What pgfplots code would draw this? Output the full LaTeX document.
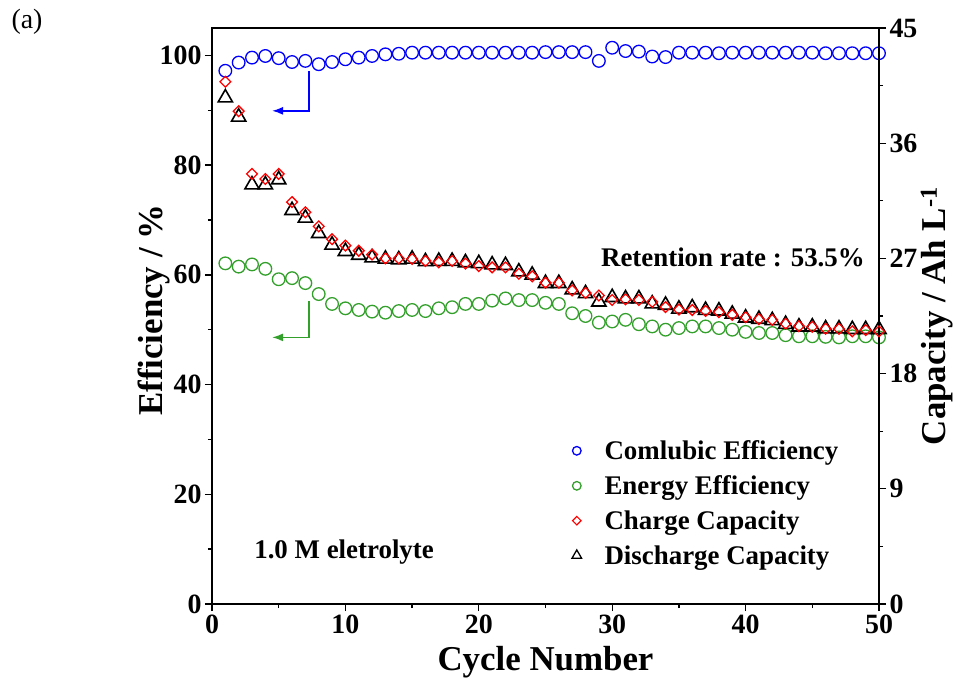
\documentclass[border=0pt]{standalone}
\usepackage{fontspec}
\setmainfont{Liberation Serif}
\usepackage{pgfplots}
\usepackage{pgfplotstable}
\pgfplotsset{compat=1.18}
\usetikzlibrary{arrows.meta}

\definecolor{ceblue}{RGB}{0,0,255}
\definecolor{eegreen}{RGB}{52,160,44}
\definecolor{chred}{RGB}{255,0,0}

% Coulombic and energy efficiency (%)
\pgfplotstableread{
cycle ce ee
1  97.2 62.1
2  98.7 61.5
3  99.6 61.9
4  99.9 61.1
5  99.5 59.2
6  98.8 59.4
7  99.0 58.5
8  98.4 56.5
9  98.8 54.7
10 99.3 53.9
11 99.6 53.6
12 99.9 53.3
13 100.2 53.1
14 100.3 53.4
15 100.5 53.6
16 100.5 53.4
17 100.5 53.9
18 100.5 54.1
19 100.5 54.7
20 100.5 54.7
21 100.5 55.3
22 100.5 55.7
23 100.5 55.4
24 100.5 55.4
25 100.6 54.9
26 100.6 54.7
27 100.6 53.0
28 100.6 52.5
29 99.0 51.3
30 101.4 51.5
31 100.8 51.8
32 100.7 51.0
33 99.8 50.6
34 99.7 50.0
35 100.5 50.3
36 100.5 50.6
37 100.5 50.6
38 100.4 50.3
39 100.5 50.0
40 100.5 49.6
41 100.5 49.4
42 100.5 49.4
43 100.5 49.0
44 100.5 48.8
45 100.5 48.8
46 100.4 48.7
47 100.4 48.6
48 100.4 48.8
49 100.4 48.8
50 100.4 48.6
}\efftable

% Charge and discharge capacity (Ah/L)
\pgfplotstableread{
cycle chg dis
1  40.8 39.55
2  38.5 38.05
3  33.6 32.75
4  33.2 32.75
5  33.6 33.15
6  31.4 30.75
7  30.6 30.15
8  29.5 28.95
9  28.5 28.05
10 28.0 27.55
11 27.6 27.25
12 27.3 27.05
13 27.0 26.95
14 27.0 26.90
15 26.95 26.95
16 26.8 26.75
17 26.7 26.78
18 26.8 26.78
19 26.6 26.67
20 26.4 26.60
21 26.3 26.50
22 26.3 26.45
23 25.8 25.95
24 25.6 25.70
25 25.1 25.05
26 25.1 25.05
27 24.5 24.55
28 24.3 24.25
29 24.1 23.60
30 23.75 23.95
31 23.8 23.85
32 23.75 23.85
33 23.6 23.45
34 23.2 23.35
35 23.0 23.05
36 22.97 23.15
37 22.9 22.95
38 22.8 22.90
39 22.6 22.65
40 22.4 22.35
41 22.25 22.25
42 22.2 22.15
43 21.9 21.85
44 21.7 21.65
45 21.65 21.65
46 21.5 21.50
47 21.5 21.50
48 21.3 21.45
49 21.4 21.45
50 21.3 21.45
}\captable

\newcommand{\tickfont}{\fontsize{28}{30}\selectfont\bfseries}
\newcommand{\labelfont}{\fontsize{35}{38}\selectfont\bfseries}
\newcommand{\notefont}{\fontsize{27}{30}\selectfont\bfseries}

\begin{document}
\begin{tikzpicture}
\pgfplotsset{
  every axis/.append style={
    scale only axis, width=667bp, height=576bp,
    xmin=0, xmax=50, clip=false,
    axis line style={line width=1.3bp},
    every tick/.style={black, line width=1.3bp},
    tick align=outside,
    major tick length=7bp, minor tick length=4bp,
    tick label style={font=\tickfont},
    label style={font=\labelfont},
    /pgf/number format/assume math mode=true,
  },
}
% efficiencies on the left axis
\begin{axis}[
  ymin=0, ymax=105,
  ytick={0,20,...,100}, minor ytick={10,30,...,90},
  xtick={0,10,...,50}, minor xtick={5,15,...,45},
  xtick pos=bottom, ytick pos=left,
  xlabel={Cycle Number},
  ylabel={Efficiency / \%},
  xlabel style={at={(axis description cs:0.5,-0.1146)}, anchor=base},
  ylabel style={at={(axis description cs:-0.087,0.51)}, anchor=center},
]
\addplot[only marks, mark=o, mark size=6.3bp, ceblue,
  mark options={line width=1.3bp}] table[x=cycle, y=ce] {\efftable};
\addplot[only marks, mark=o, mark size=6.3bp, eegreen,
  mark options={line width=1.3bp}] table[x=cycle, y=ee] {\efftable};
% arrows pointing to the efficiency axis
\draw[ceblue, line width=1.6bp, -{Latex[length=11bp, width=8bp]}]
  (axis cs:7.27,97.1) -- (axis cs:7.27,89.9) -- (axis cs:4.5,89.9);
\draw[eegreen, line width=1.6bp, -{Latex[length=11bp, width=8bp]}]
  (axis cs:7.27,55.2) -- (axis cs:7.27,48.6) -- (axis cs:4.5,48.6);
\end{axis}

% capacities on the right axis
\begin{axis}[
  ymin=0, ymax=45,
  ytick={0,9,...,45}, minor ytick={4.5,13.5,...,40.5},
  axis y line*=right, axis x line=none,
  ylabel={Capacity / Ah L\textsuperscript{-1}},
  ylabel style={at={(axis description cs:1.087,0.5)}, anchor=center},
  legend style={draw=none, fill=none, font=\notefont,
    at={(axis description cs:0.535,0.291)}, anchor=north west,
    row sep=10.6bp, legend cell align=left,
    /tikz/every odd column/.append style={column sep=21bp}},
]
\addlegendimage{only marks, mark=o, mark size=4.3bp, ceblue, mark options={line width=1.3bp}}
\addlegendentry{Comlubic Efficiency}
\addlegendimage{only marks, mark=o, mark size=4.3bp, eegreen, mark options={line width=1.3bp}}
\addlegendentry{Energy Efficiency}
\addlegendimage{only marks, mark=square, mark size=3bp, chred, mark options={rotate=45, line width=1.2bp}}
\addlegendentry{Charge Capacity}
\addlegendimage{only marks, mark=triangle, mark size=5.5bp, black, mark options={line width=1.3bp}}
\addlegendentry{Discharge Capacity}

\addplot[only marks, mark=triangle, mark size=8.2bp, black,
  mark options={line width=1.6bp}, forget plot] table[x=cycle, y=dis] {\captable};
\addplot[only marks, mark=square, mark size=3.8bp, chred,
  mark options={rotate=45, line width=1.3bp}, forget plot] table[x=cycle, y=chg] {\captable};

\node[font=\notefont] at (axis description cs:0.781,0.601) {Retention rate : 53.5\%};
\node[font=\notefont] at (axis description cs:0.198,0.090) {1.0 M eletrolyte};
\end{axis}

\node[font=\fontsize{28}{30}\selectfont] at (-185bp,582bp) {(a)};

\pgfresetboundingbox
\path[use as bounding box] (-212bp,-76bp) rectangle (748bp,604bp);
\end{tikzpicture}
\end{document}
